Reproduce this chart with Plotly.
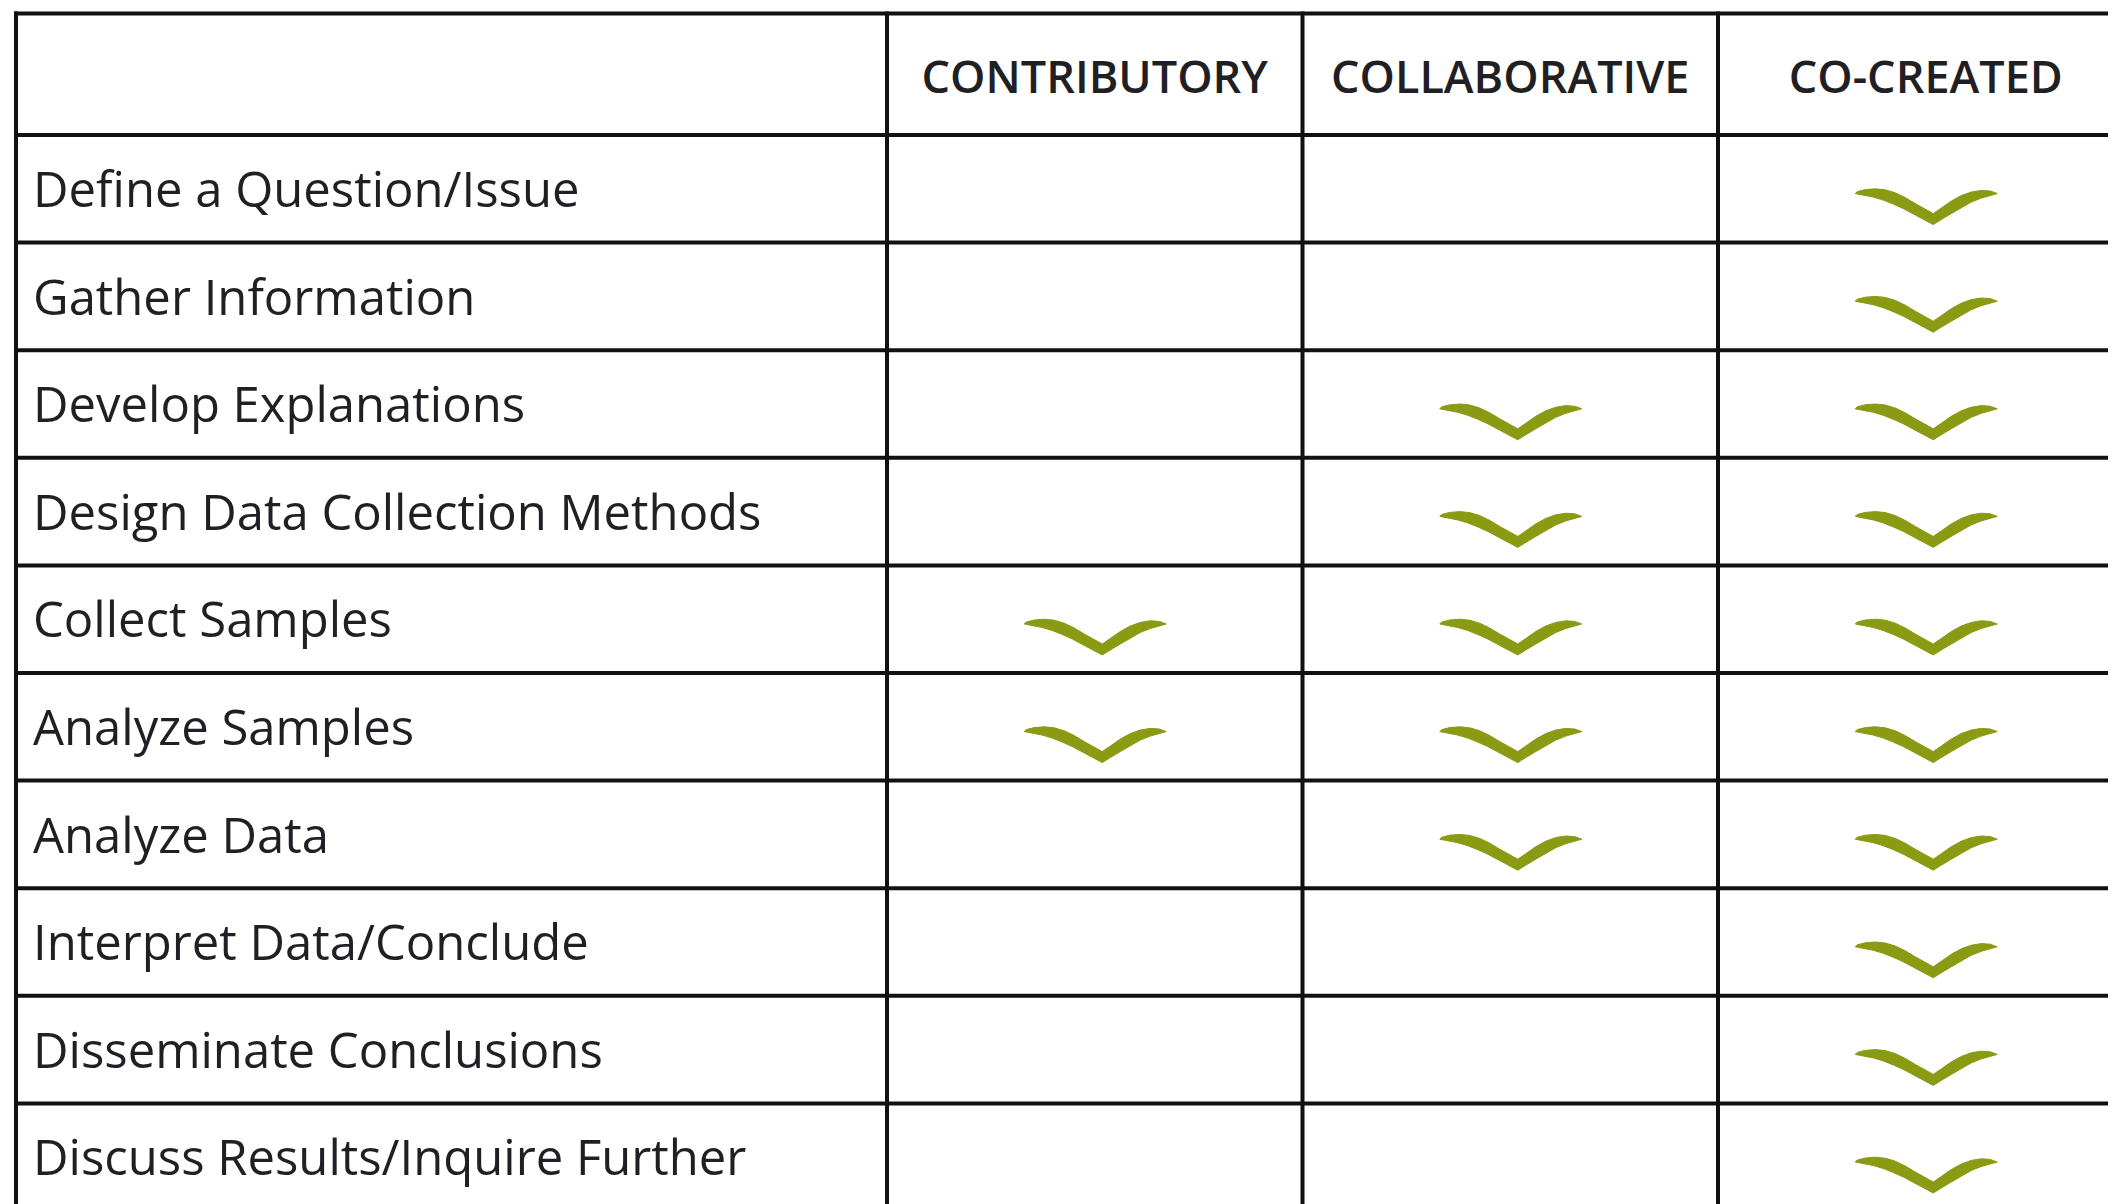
import plotly.graph_objects as go

# ---------------- data ----------------
stages = [
    "Define a Question/Issue",
    "Gather Information",
    "Develop Explanations",
    "Design Data Collection Methods",
    "Collect Samples",
    "Analyze Samples",
    "Analyze Data",
    "Interpret Data/Conclude",
    "Disseminate Conclusions",
    "Discuss Results/Inquire Further",
]
levels = ["CONTRIBUTORY", "COLLABORATIVE", "CO-CREATED"]
contributory = [0, 0, 0, 0, 1, 1, 0, 0, 0, 0]
collaborative = [0, 0, 1, 1, 1, 1, 1, 0, 0, 0]
co_created = [1, 1, 1, 1, 1, 1, 1, 1, 1, 1]
participation = [contributory, collaborative, co_created]

# ---------------- layout constants (pixel-like units) ----------------
W, H = 2116, 1204
PAGE_OFF = 8          # default body margin of the html page
TABLE_LEFT = 16
LABEL_RIGHT = 887
COL_W = 415.5
TOP = 13.5
HEADER_BOTTOM = 135
ROW_H = 107.6
LINE_W = 4
LINE_COLOR = "#111111"
TEXT_COLOR = "#1f1f24"
CHECK_COLOR = "#8A9A12"
LABEL_PAD = 17
LABEL_DY = 6
HEADER_TEXT_Y = 82

# check-mark glyph template (relative to bottom tip, y downward)
CHECK = [
    (0, 0), (-10, -5.5), (-20, -11), (-30, -16), (-40, -20.5), (-50, -24.5),
    (-60, -27.5), (-70, -29.5), (-78, -31),
    (-76, -33), (-68, -35), (-58, -35.8), (-48, -34.8), (-38, -31.8),
    (-28, -27), (-18, -21), (-8, -15), (0, -11),
    (8, -16.5), (18, -23.5), (28, -29), (38, -32.6), (48, -34.2), (57, -33.6),
    (64, -31),
    (58, -29.2), (48, -26.5), (38, -22.5), (28, -17), (18, -11), (8, -5), (0, 0),
]
CHECK_DX = 7.5
CHECK_UP = 18

n_rows = len(stages)
col_lefts = [LABEL_RIGHT + i * COL_W for i in range(len(levels))]
col_centers = [c + COL_W / 2 for c in col_lefts]
row_tops = [HEADER_BOTTOM + i * ROW_H for i in range(n_rows)]
row_centers = [t + ROW_H / 2 for t in row_tops]

fig = go.Figure()

# grid lines
shapes = []
h_lines = [TOP, HEADER_BOTTOM] + [t + ROW_H for t in row_tops]
for y in h_lines:
    shapes.append(dict(type="line", xref="x", yref="y", x0=TABLE_LEFT - LINE_W / 2,
                       x1=W + 50, y0=y, y1=y,
                       line=dict(color=LINE_COLOR, width=LINE_W), layer="above"))
v_lines = [TABLE_LEFT, LABEL_RIGHT] + [c + COL_W for c in col_lefts]
for x in v_lines:
    shapes.append(dict(type="line", xref="x", yref="y", x0=x, x1=x,
                       y0=TOP - LINE_W / 2, y1=H + 50,
                       line=dict(color=LINE_COLOR, width=LINE_W), layer="above"))

# header text
fig.add_trace(go.Scatter(
    x=col_centers, y=[HEADER_TEXT_Y] * len(levels),
    mode="text", text=levels, textposition="middle center",
    textfont=dict(family="Open Sans", size=45, color=TEXT_COLOR, weight=600),
    hoverinfo="skip", showlegend=False,
))

# row labels
fig.add_trace(go.Scatter(
    x=[TABLE_LEFT + LABEL_PAD] * n_rows, y=[c + LABEL_DY for c in row_centers],
    mode="text", text=stages, textposition="middle right",
    textfont=dict(family="Open Sans", size=49, color=TEXT_COLOR),
    hoverinfo="skip", showlegend=False,
))

# check marks
for ci, flags in enumerate(participation):
    for ri, flag in enumerate(flags):
        if not flag:
            continue
        bx = col_centers[ci] + CHECK_DX
        by = row_tops[ri] + ROW_H - CHECK_UP
        xs = [bx + dx for dx, _ in CHECK]
        ys = [by + dy for _, dy in CHECK]
        fig.add_trace(go.Scatter(
            x=xs, y=ys, mode="lines", fill="toself",
            fillcolor=CHECK_COLOR, line=dict(color=CHECK_COLOR, width=1),
            hoverinfo="skip", showlegend=False,
        ))

fig.update_layout(
    width=W, height=H,
    margin=dict(l=0, r=0, t=0, b=0),
    paper_bgcolor="white", plot_bgcolor="white",
    shapes=shapes,
    xaxis=dict(range=[PAGE_OFF, W + PAGE_OFF], visible=False, fixedrange=True),
    yaxis=dict(range=[H + PAGE_OFF, PAGE_OFF], visible=False, fixedrange=True),
    showlegend=False,
)

fig.write_html("out.html")
